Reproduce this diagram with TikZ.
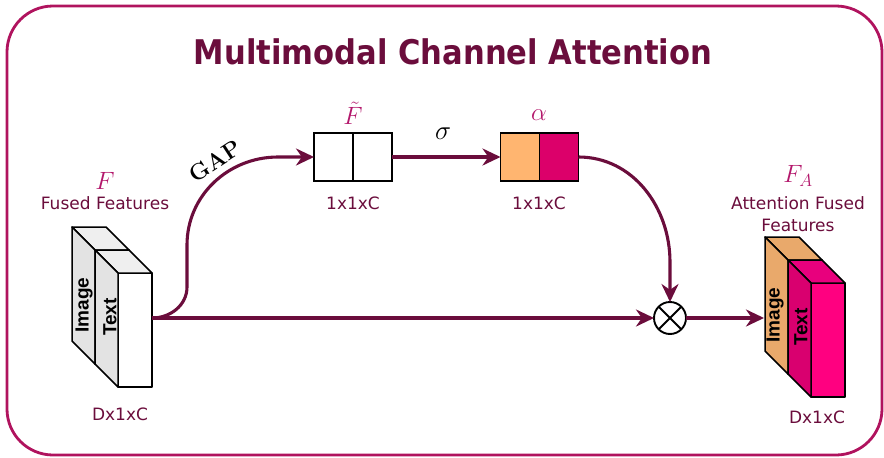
\documentclass[tikz,border=0pt]{standalone}
\usepackage{fix-cm}
\usepackage{fontspec}
\usetikzlibrary{arrows.meta}
\newfontfamily\labelfont{DejaVu Sans}
\newfontfamily\slabfont{Liberation Sans}
\newfontfamily\titlefont[FakeStretch=0.9]{DejaVu Sans}

\definecolor{frameC}{HTML}{B0135E}
\definecolor{maroon}{HTML}{6B0D3C}
\definecolor{mathC}{HTML}{B3176B}
\definecolor{greyTop}{HTML}{EFEFEF}
\definecolor{greySide}{HTML}{E3E3E3}
\definecolor{sandC}{HTML}{E9A96B}
\definecolor{pinkFront}{HTML}{FF0080}
\definecolor{pinkTop}{HTML}{E8007D}
\definecolor{pinkSide}{HTML}{D9006F}
\definecolor{cellOrange}{HTML}{FFB570}
\definecolor{cellPink}{HTML}{DC006A}

% one slab of a feature block: front face top-left corner at (#1,#2)
\newcommand\featslab[5]{%
  \filldraw[fill=#3,slabline] (#1,#2) rectangle ++(34,114);
  \filldraw[fill=#4,slabline] (#1,#2) -- ++(-23,-23) -- ++(34,0) -- ++(23,23) -- cycle;
  \filldraw[fill=#5,slabline] (#1,#2) -- ++(-23,-23) -- ++(0,114) -- ++(23,23) -- cycle;
}

\tikzset{
  slabline/.style={draw=black,line width=1.5pt,line join=round},
  cell/.style={draw=black,line width=1.5pt,minimum width=39pt,minimum height=48pt,inner sep=0pt,outer sep=0pt},
  lbl/.style={text=maroon,font=\labelfont\fontsize{17}{22}\selectfont,align=center,inner sep=0pt},
  mlbl/.style={text=mathC,font=\fontsize{25}{28}\selectfont,inner sep=0pt},
  slabtext/.style={rotate=90,font=\slabfont\bfseries\fontsize{19}{22}\selectfont,inner sep=0pt},
  arr/.style={draw=maroon,line width=3.1pt,-{Stealth[length=18pt,width=17pt]}},
}

\begin{document}
\begin{tikzpicture}[x=1pt,y=-1pt]
\useasboundingbox (0,0) rectangle (884,458);

% outer frame
\draw[frameC,line width=2.8pt,rounded corners=46pt] (7,6) rectangle (882,455);

% title
\node[text=maroon,font=\titlefont\bfseries\fontsize{34}{38}\selectfont,inner sep=0pt] (title) at (453,52) {Multimodal Channel Attention};

% input fused features block
\featslab{95}{250}{white}{greyTop}{greySide}
\featslab{118}{273}{white}{greyTop}{greySide}
\node[slabtext] (limg) at (84,305) {Image};
\node[slabtext] (ltxt) at (110,317) {Text};
\coordinate (fout) at (152,318);
\node[mlbl] (F) at (105,181) {$F$};
\node[lbl] (fused) at (105,203) {Fused Features};
\node[lbl] (dimL) at (120,414) {Dx1xC};

% pooled vector
\node[cell] (ft1) at (333.5,157) {};
\node[cell] (ft2) at (372.5,157) {};
\node[mlbl] (Ft) at (353,113) {$\tilde{F}$};
\node[lbl] (dimF) at (353,203) {1x1xC};

% attention weights
\node[cell,fill=cellOrange] (a1) at (520,157) {};
\node[cell,fill=cellPink] (a2) at (559,157) {};
\node[mlbl] (alpha) at (539,115) {$\alpha$};
\node[lbl] (dimA) at (539,203) {1x1xC};

% channel-wise product
\node[circle,draw=black,fill=white,line width=1.9pt,minimum size=32pt,inner sep=0pt,outer sep=0pt] (mul) at (670,318) {};
\draw[line width=1.9pt] (mul.north west) -- (mul.south east) (mul.north east) -- (mul.south west);

% output attention fused features block
\featslab{788}{260}{sandC}{sandC}{sandC}
\featslab{811}{283}{pinkFront}{pinkTop}{pinkSide}
\node[slabtext] (rimg) at (775,315) {Image};
\node[slabtext] (rtxt) at (801,327) {Text};
\coordinate (ain) at (764,318);
\node[mlbl] (FA) at (798,176) {$F_A$};
\node[lbl] (att) at (798,214) {Attention Fused\\Features};
\node[lbl] (dimR) at (817,417) {Dx1xC};

% connectors
\draw[arr] (fout) to[out=0,in=-90] (187,287) -- (187,245) to[out=90,in=180] (278,157) -- (ft1.west);
\node[rotate=33,font=\bfseries\fontsize{23}{26}\selectfont,inner sep=0pt] (gap) at (215,161) {GAP};
\draw[arr] (ft2.east) -- (a1.west);
\node[font=\fontsize{27}{30}\selectfont,inner sep=0pt] (sig) at (443,134) {$\sigma$};
\draw[arr] (a2.east) to[out=0,in=90] (670,262) -- (mul.north);
\draw[arr] (fout) -- (mul.west);
\draw[arr] (mul.east) -- (ain);
\end{tikzpicture}
\end{document}
